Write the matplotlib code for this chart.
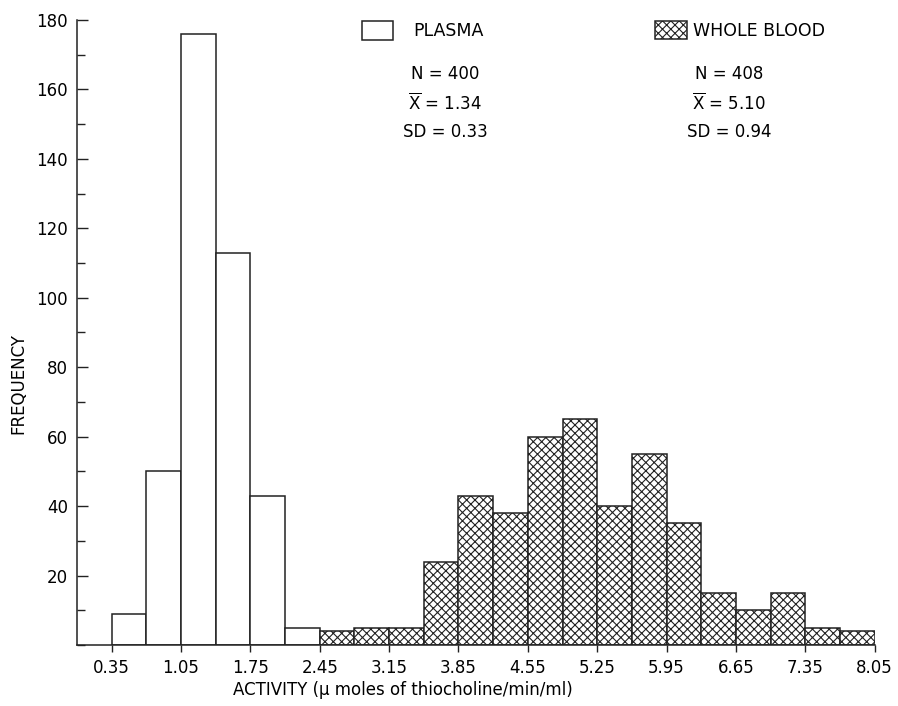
import matplotlib
matplotlib.use("Agg")
import matplotlib.pyplot as plt
from matplotlib.patches import Rectangle
from matplotlib.ticker import MultipleLocator

plt.rcParams['font.family'] = ['DejaVu Sans']
plt.rcParams['mathtext.fontset'] = 'dejavusans'
plt.rcParams['hatch.linewidth'] = 0.8
plt.rcParams['hatch.color'] = '#3a3a3a'

# ---- data ----
bin_width = 0.35
plasma_bin_lo = [0.35, 0.70, 1.05, 1.40, 1.75, 2.10]
plasma_freq = [9, 50, 176, 113, 43, 5]
blood_bin_lo = [2.45, 2.80, 3.15, 3.50, 3.85, 4.20, 4.55, 4.90,
                5.25, 5.60, 5.95, 6.30, 6.65, 7.00, 7.35, 7.70]
blood_freq = [4, 5, 5, 24, 43, 38, 60, 65, 40, 55, 35, 15, 10, 15, 5, 4]
x_ticks = [0.35, 1.05, 1.75, 2.45, 3.15, 3.85, 4.55, 5.25, 5.95, 6.65, 7.35, 8.05]
x_tick_labels = ['0.35', '1.05', '1.75', '2.45', '3.15', '3.85', '4.55',
                 '5.25', '5.95', '6.65', '7.35', '8.05']
y_ticks = [20, 40, 60, 80, 100, 120, 140, 160, 180]
plasma_stats = ['N = 400', r'$\overline{\mathrm{X}}$ = 1.34', 'SD = 0.33']
blood_stats = ['N = 408', r'$\overline{\mathrm{X}}$ = 5.10', 'SD = 0.94']

fig = plt.figure(figsize=(8.98, 7.06), dpi=100)
ax = fig.add_axes([0.0857, 0.0864, 0.974 - 0.0857, 0.9717 - 0.0864])

edge = '#222222'
ax.bar(plasma_bin_lo, plasma_freq, width=bin_width, align='edge',
       facecolor='white', edgecolor=edge, linewidth=1.1)
ax.bar(blood_bin_lo, blood_freq, width=bin_width, align='edge',
       facecolor='white', edgecolor=edge, linewidth=1.1, hatch='xxxx')

ax.set_xlim(0, 8.05)
ax.set_ylim(0, 180)
ax.spines['top'].set_visible(False)
ax.spines['right'].set_visible(False)
for s in ('left', 'bottom'):
    ax.spines[s].set_color(edge)
    ax.spines[s].set_linewidth(1.1)

ax.set_xticks(x_ticks)
ax.set_xticklabels(x_tick_labels, fontsize=12)
ax.set_yticks(y_ticks)
ax.set_yticklabels([str(v) for v in y_ticks], fontsize=12)
ax.yaxis.set_minor_locator(MultipleLocator(10))
ax.tick_params(axis='y', which='major', direction='in', length=8, width=1, color=edge, pad=6.5)
ax.tick_params(axis='y', which='minor', direction='in', length=6, width=1, color=edge)
ax.tick_params(axis='x', which='major', direction='out', length=5, width=1, color=edge, pad=5)

fig.text(403 / 898, 1 - 690 / 706, 'ACTIVITY (\u03bc moles of thiocholine/min/ml)',
         fontsize=12, ha='center', va='center')
fig.text(18 / 898, 1 - 383 / 706, 'FREQUENCY', fontsize=12, rotation=90,
         ha='center', va='center')

# legend
fig.patches.append(Rectangle((362 / 898, 1 - 40 / 706), 31 / 898, 19 / 706,
                             transform=fig.transFigure, facecolor='white',
                             edgecolor=edge, linewidth=1.1))
fig.text(413 / 898, 1 - 31 / 706, 'PLASMA', fontsize=12.5, va='center', ha='left')
fig.patches.append(Rectangle((655 / 898, 1 - 39 / 706), 32 / 898, 18 / 706,
                             transform=fig.transFigure, facecolor='white',
                             edgecolor=edge, linewidth=1.1, hatch='xxxx'))
fig.text(693 / 898, 1 - 31 / 706, 'WHOLE BLOOD', fontsize=12.5, va='center', ha='left')

for i, (a, b) in enumerate(zip(plasma_stats, blood_stats)):
    y = 1 - (74 + 29 * i) / 706
    fig.text(445 / 898, y, a, fontsize=12, ha='center', va='center')
    fig.text(729 / 898, y, b, fontsize=12, ha='center', va='center')

fig.savefig('out.png', dpi=100)
